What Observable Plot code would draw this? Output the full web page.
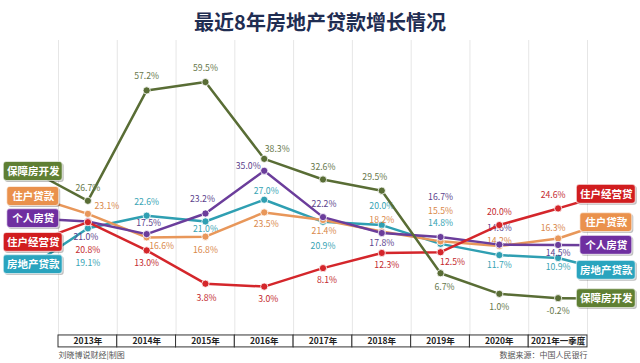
<!DOCTYPE html>
<html><head><meta charset="utf-8">
<script src="https://cdn.jsdelivr.net/npm/d3@7"></script>
<script src="https://cdn.jsdelivr.net/npm/@observablehq/plot@0.6"></script>
<style>
body{margin:0;background:#fff;width:640px;height:363px;overflow:hidden;font-family:"Noto Sans CJK SC",sans-serif;}
#title{height:40px;line-height:44px;text-align:center;font-size:20px;font-weight:bold;color:#1f2d52;}
</style></head><body>
<div id="title">最近8年房地产贷款增长情况</div>
<div id="chart"></div>
<script>
// ---- data ----
const years = ["2013年","2014年","2015年","2016年","2017年","2018年","2019年","2020年","2021年一季度"];
const seriesNames = ["保障房开发","住户贷款","个人房贷","住户经营贷","房地产贷款"];
const baozhangfang = [26.7,57.2,59.5,38.3,32.6,29.5,6.7,1.0,-0.2];
const zhuhuDaikuan = [23.1,16.6,16.8,23.5,21.4,18.2,15.5,14.2,16.3];
const gerenFangdai = [21.0,17.5,23.2,35.0,22.2,17.8,16.7,14.6,14.5];
const zhuhuJingying = [20.8,13.0,3.8,3.0,8.1,12.3,12.5,20.0,24.6];
const fangdichan = [19.1,22.6,21.0,27.0,20.9,20.0,14.8,11.7,10.9];
const caption = "刘晓博说财经|制图";
const source = "数据来源：中国人民银行";

// ---- styles / layout ----
const valuesBySeries = [baozhangfang, zhuhuDaikuan, gerenFangdai, zhuhuJingying, fangdichan];
const lineColors = ["#596d35","#e8975a","#6b3d9b","#d4262b","#2f9fb2"];
const boxColors  = ["#5f7f33","#ea914c","#6f2fa0","#d11d1f","#2aa4be"];
const textColors = ["#66774a","#d9884a","#5b3f8c","#c42a2e","#37a4b4"];
// label offsets [dx, dy] per point (pixels)
const labelOffsets = [
  [[0,-13],[0,-14],[0,-14],[13,-10],[0,-12],[-7,-13],[4,14],[0,13],[0,13]],
  [[19,-8],[15,9],[0,14],[2,12],[1,11],[0,-11],[0,-30],[0,-5],[-5,-10]],
  [[-2,16],[2,-11],[-3,-14],[-16,-5],[1,-13],[0,10],[0,-40],[0,-16],[0,8]],
  [[0,28],[0,13],[1,14],[4,13],[4,12],[5,12],[12,10],[0,-13],[-5,-13]],
  [[0,35],[0,-13],[0,8],[2,-9],[0,24],[0,-19],[0,-21],[0,10],[0,9]]
];
const leftBoxY  = [34.8, 27.9, 21.8, 15.2, 9.1];
const rightBoxY = [-0.3, 20.7, 14.4, 28.5, 7.5];
const leftBoxX = -0.93, rightBoxX = 8.82;
const tableTop = -10.5, tableBottom = -13.8, tableMid = -12.15, footerY = -16.0, gridTop = 71;

const marks = [];
// vertical gridlines at category boundaries
marks.push(Plot.ruleX(years.map((d,i)=>i-0.5).concat([years.length-0.5]), {y1: gridTop, y2: tableTop, stroke:"#e6e6e6", strokeWidth:1}));

const order = [4,1,2,3,0];
for (const s of order) {
  const vals = valuesBySeries[s];
  const rows = vals.map((v,i)=>({i, v, dx: labelOffsets[s][i][0], dy: labelOffsets[s][i][1]}));
  marks.push(Plot.link([0], {x1: leftBoxX, y1: leftBoxY[s], x2: 0, y2: vals[0], stroke: lineColors[s], strokeWidth: 2.5}));
  marks.push(Plot.link([0], {x1: vals.length-1, y1: vals[vals.length-1], x2: rightBoxX, y2: rightBoxY[s], stroke: lineColors[s], strokeWidth: 2.5}));
  marks.push(Plot.line(rows, {x:"i", y:"v", stroke: lineColors[s], strokeWidth: 2.5}));
  marks.push(Plot.dot(rows, {x:"i", y:"v", r: 3.6, fill: lineColors[s], stroke:"white", strokeWidth: 0.8}));
  for (const r of rows) {
    marks.push(Plot.text([r], {x:"i", y:"v", text: d=>d.v.toFixed(1)+"%", dx: r.dx, dy: r.dy, fill: textColors[s], fontSize: 8.7}));
  }
}

// series label boxes
function boxMarks(xa, ya, s) {
  const name = seriesNames[s];
  const hw = name.length === 5 ? 29.5 : 26;
  const d = [{x: xa, y: ya}];
  return [
    Plot.rect(d, {x1:"x", x2:"x", y1:"y", y2:"y", insetLeft:-hw, insetRight:-hw, insetTop:-9.5, insetBottom:-9.5, rx:3, fill:"#000", fillOpacity:0.25, dx:1.5, dy:1.5}),
    Plot.rect(d, {x1:"x", x2:"x", y1:"y", y2:"y", insetLeft:-hw, insetRight:-hw, insetTop:-9.5, insetBottom:-9.5, rx:3, fill: boxColors[s], stroke:"#ffffff", strokeOpacity:0.6, strokeWidth:1.2}),
    Plot.text(d, {x:"x", y:"y", text: ()=>name, fill:"white", fontSize: 10.5, fontWeight:"bold"})
  ];
}
for (let s=0; s<5; s++) {
  marks.push(...boxMarks(leftBoxX, leftBoxY[s], s));
  marks.push(...boxMarks(rightBoxX, rightBoxY[s], s));
}

// category table (x axis)
marks.push(Plot.rect(years, {x1:(d,i)=>i-0.5, x2:(d,i)=>i+0.5, y1: tableTop, y2: tableBottom, fill:"white", stroke:"#333", strokeWidth:1}));
marks.push(Plot.text(years, {x:(d,i)=>i, y: tableMid, text: d=>d, fill:"#222", fontSize: 8.5, fontWeight:"bold"}));
// footer
marks.push(Plot.text([caption], {x: -0.5, y: footerY, text: d=>d, textAnchor:"start", fill:"#555", fontSize: 8}));
marks.push(Plot.text([source], {x: years.length-0.5, y: footerY, text: d=>d, textAnchor:"end", fill:"#555", fontSize: 8}));

const chart = Plot.plot({
  width: 640, height: 323,
  marginTop: 0, marginBottom: 0, marginLeft: 0, marginRight: 0,
  x: {domain: [-0.5, 8.5], range: [58, 587], axis: null},
  y: {domain: [-2, 60], range: [264.2, 39.8], axis: null},
  style: {fontFamily: '"Noto Sans CJK SC", sans-serif', background: "white", overflow: "visible"},
  marks
});
document.getElementById("chart").append(chart);
</script></body></html>
